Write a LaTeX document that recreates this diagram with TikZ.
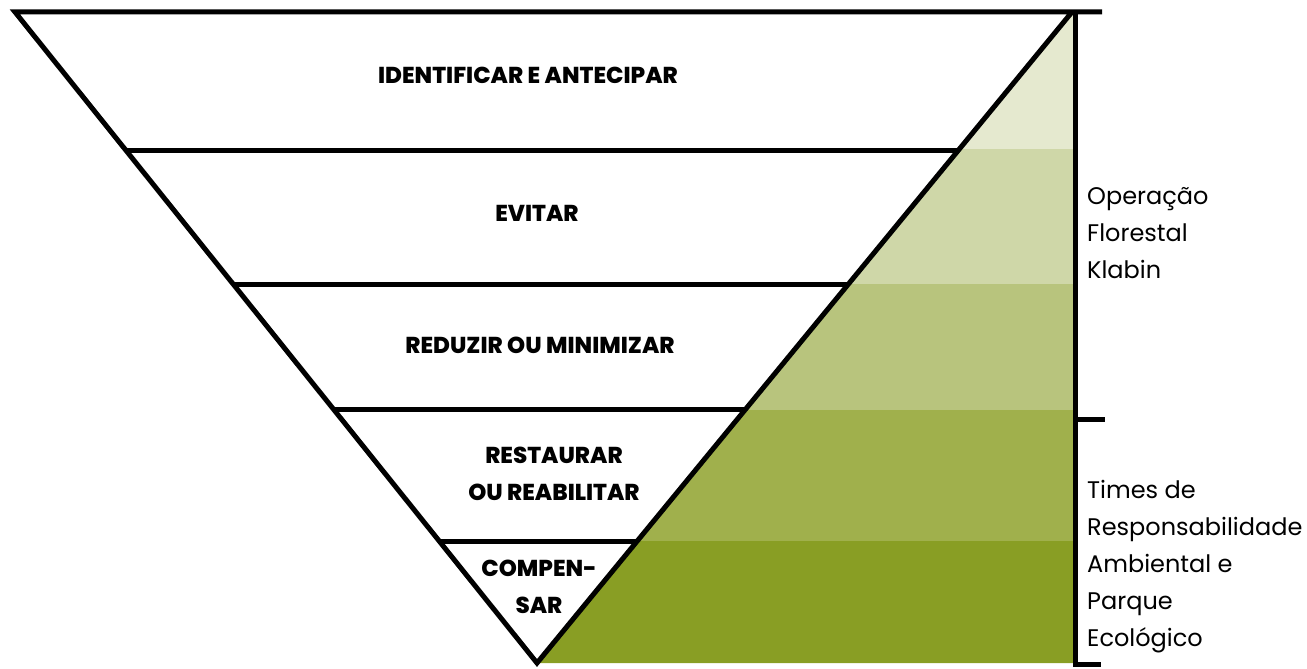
\documentclass[tikz,border=0pt]{standalone}
\usepackage{fontspec}
\setmainfont{Poppins}
\newfontfamily\heavyfont{Poppins}[UprightFont=* ExtraBold]
\usetikzlibrary{calc}

\definecolor{bandA}{RGB}{229,233,207}
\definecolor{bandB}{RGB}{207,215,168}
\definecolor{bandC}{RGB}{184,196,125}
\definecolor{bandD}{RGB}{160,176,76}
\definecolor{bandE}{RGB}{137,158,36}

\begin{document}
\begin{tikzpicture}[x=1pt,y=-1pt,
	level/.style={font=\heavyfont\fontsize{23}{37}\selectfont, align=center, inner sep=0pt},
	side/.style={font=\fontsize{24}{37}\selectfont, align=left, anchor=west, inner sep=0pt},
	thick line/.style={line width=5pt}]
	\useasboundingbox (0,0) rectangle (1307,669);
	\coordinate (tl) at (15,12);
	\coordinate (tr) at (1072,12);
	\coordinate (ap) at (537,663);
	% green bands behind the right side
	\begin{scope}
		\clip (tr) -- (1075,12) -- (1075,663) -- (ap) -- cycle;
		\fill[bandA] (500,0) rectangle (1080,149);
		\fill[bandB] (500,149) rectangle (1080,284);
		\fill[bandC] (500,284) rectangle (1080,410);
		\fill[bandD] (500,410) rectangle (1080,541);
		\fill[bandE] (500,541) rectangle (1080,670);
	\end{scope}
	% triangle and levels
	\draw[thick line] (1102,12) -- (tl) -- (ap) -- (tr);
	\foreach \f in {0.212,0.419,0.611,0.814}
		\draw[thick line] ($(tl)!\f!(ap)$) -- ($(tr)!\f!(ap)$);
	% bracket
	\draw[thick line] (1075,12) -- (1075,664) -- (1101,664);
	\draw[thick line] (1075,419) -- (1105,419);
	\node[level] (identificar) at (528,75) {IDENTIFICAR E ANTECIPAR};
	\node[level] (evitar) at (537,213) {EVITAR};
	\node[level] (reduzir) at (540,345) {REDUZIR OU MINIMIZAR};
	\node[level] (restaurar) at (554,474) {RESTAURAR\\OU REABILITAR};
	\node[level] (compensar) at (539,587) {COMPEN-\\SAR};
	\node[side] (operacao) at (1087,233) {Operação\\Florestal\\Klabin};
	\node[side] (times) at (1087,567) {Times de\\Responsabilidade\\Ambiental e\\Parque\\Ecológico};
\end{tikzpicture}
\end{document}
